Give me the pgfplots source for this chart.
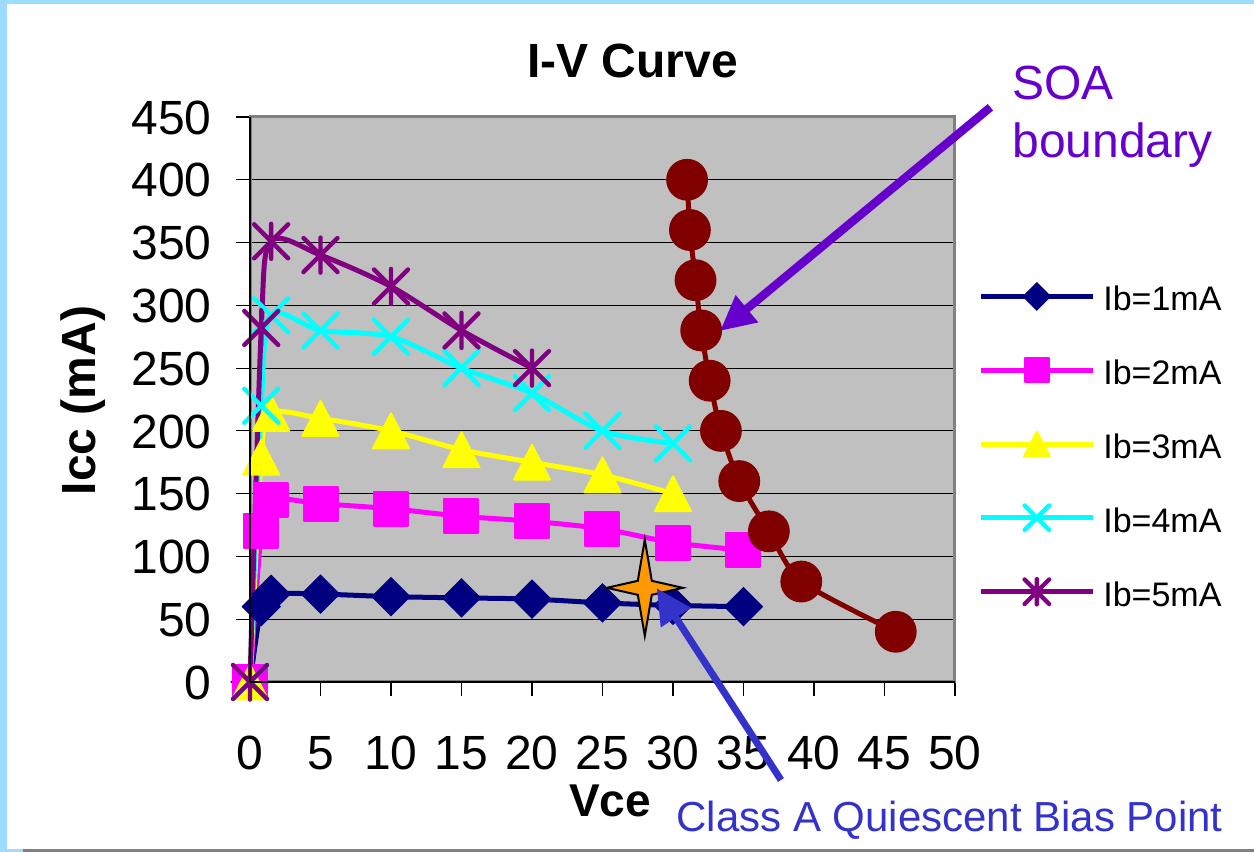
\documentclass[border=0pt]{standalone}
\usepackage{fontspec}
\setmainfont{Liberation Sans}
\setsansfont{Liberation Sans}
\usepackage{pgfplots}
\pgfplotsset{compat=1.18}
\usetikzlibrary{arrows.meta}

\definecolor{cNavy}{HTML}{000080}
\definecolor{cPink}{HTML}{FF00FF}
\definecolor{cYel}{HTML}{FFFF00}
\definecolor{cCyan}{HTML}{00FFFF}
\definecolor{cPurp}{HTML}{800080}
\definecolor{cDRed}{HTML}{800000}
\definecolor{cPlot}{HTML}{C0C0C0}
\definecolor{cBord}{HTML}{808080}
\definecolor{cFrame}{HTML}{9EDCFF}
\definecolor{cSOA}{HTML}{6600CC}
\definecolor{cBlue}{HTML}{3333CC}
\definecolor{cOrange}{HTML}{FF9900}

\pgfdeclareplotmark{xdiamond}{%
  \pgfpathmoveto{\pgfqpoint{0pt}{\pgfplotmarksize}}%
  \pgfpathlineto{\pgfqpoint{\pgfplotmarksize}{0pt}}%
  \pgfpathlineto{\pgfqpoint{0pt}{-\pgfplotmarksize}}%
  \pgfpathlineto{\pgfqpoint{-\pgfplotmarksize}{0pt}}%
  \pgfpathclose\pgfusepathqfillstroke}
\pgfdeclareplotmark{xtri}{%
  \pgfpathmoveto{\pgfqpoint{0pt}{0.97\pgfplotmarksize}}%
  \pgfpathlineto{\pgfqpoint{\pgfplotmarksize}{-0.97\pgfplotmarksize}}%
  \pgfpathlineto{\pgfqpoint{-\pgfplotmarksize}{-0.97\pgfplotmarksize}}%
  \pgfpathclose\pgfusepathqfillstroke}
\pgfdeclareplotmark{xcross}{%
  \pgfpathmoveto{\pgfqpoint{-\pgfplotmarksize}{-\pgfplotmarksize}}%
  \pgfpathlineto{\pgfqpoint{\pgfplotmarksize}{\pgfplotmarksize}}%
  \pgfpathmoveto{\pgfqpoint{-\pgfplotmarksize}{\pgfplotmarksize}}%
  \pgfpathlineto{\pgfqpoint{\pgfplotmarksize}{-\pgfplotmarksize}}%
  \pgfusepathqstroke}
\pgfdeclareplotmark{xstar}{%
  \pgfpathmoveto{\pgfqpoint{-\pgfplotmarksize}{-\pgfplotmarksize}}%
  \pgfpathlineto{\pgfqpoint{\pgfplotmarksize}{\pgfplotmarksize}}%
  \pgfpathmoveto{\pgfqpoint{-\pgfplotmarksize}{\pgfplotmarksize}}%
  \pgfpathlineto{\pgfqpoint{\pgfplotmarksize}{-\pgfplotmarksize}}%
  \pgfpathmoveto{\pgfqpoint{0pt}{-1.03\pgfplotmarksize}}%
  \pgfpathlineto{\pgfqpoint{0pt}{1.03\pgfplotmarksize}}%
  \pgfusepathqstroke}
\pgfdeclareplotmark{fourstar}{%
  \pgfpathmoveto{\pgfqpoint{0pt}{24pt}}%
  \pgfpathlineto{\pgfqpoint{3.5pt}{3.5pt}}%
  \pgfpathlineto{\pgfqpoint{19pt}{0pt}}%
  \pgfpathlineto{\pgfqpoint{3.5pt}{-3.5pt}}%
  \pgfpathlineto{\pgfqpoint{0pt}{-24pt}}%
  \pgfpathlineto{\pgfqpoint{-3.5pt}{-3.5pt}}%
  \pgfpathlineto{\pgfqpoint{-19pt}{0pt}}%
  \pgfpathlineto{\pgfqpoint{-3.5pt}{3.5pt}}%
  \pgfpathclose\pgfusepathqfillstroke}

\begin{document}
\begin{tikzpicture}[x=0.5pt,y=0.5pt]
\useasboundingbox (0,0) rectangle (1254,852);
\fill[cFrame] (0,0) rectangle (1254,852);
\fill[white] (7,3) rectangle (1254,848);
\fill[cBord] (23,0) rectangle (1254,3);

\begin{axis}[
  at={(125pt,85pt)}, anchor=south west,
  width=352.5pt, height=282.5pt, scale only axis,
  xmin=0, xmax=50, ymin=0, ymax=450,
  xtick={0,5,...,50}, ytick={0,50,...,450},
  clip=false,
  axis background/.style={fill=cPlot},
  axis line style={draw=cBord, line width=1.5pt},
  ymajorgrids, major grid style={black, line width=0.6pt},
  tick align=outside, tick pos=left,
  major tick length=7pt,
  major tick style={black, line width=0.6pt},
  /pgf/number format/assume math mode=true,
  ticklabel style={font=\fontsize{24}{28}\selectfont, inner sep=0pt, text height=17.2pt, text depth=0pt},
  xticklabel style={anchor=north},
  yticklabel style={anchor=east},
  xticklabel shift=19.5pt,
  yticklabel shift=12pt,
  legend style={draw=none, fill=none, at={(1.0326,0.4204)}, anchor=west,
     inner sep=0pt, row sep=23.5pt, column sep=4pt,
     nodes={inner sep=0pt, text height=12.2pt, text depth=0pt, font=\fontsize{17}{20}\selectfont}},
  legend cell align=left,
  legend image code/.code={%
    \draw[mark repeat=2, mark phase=2, every mark/.append style={scale=0.72}, #1]
      plot coordinates {(0pt,1.1pt) (28pt,1.1pt) (56pt,1.1pt)};},
]
\addplot[cNavy, line width=2.5pt, smooth, tension=0.5, mark=xdiamond, mark size=9.5pt,
  mark options={fill=cNavy, draw=cNavy, line width=0.5pt, solid}]
  coordinates {(0,0) (0.8,60) (1.5,70) (5,70) (10,68) (15,67) (20,66) (25,63) (30,61) (35,60)};
\addlegendentry{Ib=1mA}
\addplot[cPink, line width=2.5pt, smooth, tension=0.5, mark=square*, mark size=8.5pt,
  mark options={fill=cPink, draw=cPink, line width=1pt, line join=round, solid}]
  coordinates {(0,0) (0.8,120) (1.5,145) (5,142) (10,138) (15,132) (20,128) (25,122) (30,111) (35,105)};
\addlegendentry{Ib=2mA}
\addplot[cYel, line width=2.5pt, smooth, tension=0.5, mark=xtri, mark size=9pt,
  mark options={fill=cYel, draw=cYel, line width=1pt, line join=round, solid}]
  coordinates {(0,0) (0.8,179) (1.5,214) (5,210) (10,200) (15,185) (20,175) (25,165) (30,150)};
\addlegendentry{Ib=3mA}
\addplot[cCyan, line width=2.5pt, smooth, tension=0.5, mark=xcross, mark size=8.5pt,
  mark options={draw=cCyan, line width=2.2pt, line cap=round, solid}]
  coordinates {(0,0) (0.8,220) (1.5,292) (5,280) (10,275) (15,250) (20,230) (25,200) (30,190)};
\addlegendentry{Ib=4mA}
\addplot[cPurp, line width=2.5pt, smooth, tension=0.5, mark=xstar, mark size=8.5pt,
  mark options={draw=cPurp, line width=2.2pt, line cap=round, solid}]
  coordinates {(0,0) (0.8,282) (1.5,351) (5,340) (10,315) (15,280) (20,250)};
\addlegendentry{Ib=5mA}
\addplot[cDRed, line width=2.5pt, smooth, tension=0.4, mark=*, mark size=9.2pt,
  mark options={fill=cDRed, draw=cDRed, solid}, forget plot]
  coordinates {(31,400) (31.2,360) (31.6,320) (32,280) (32.6,240) (33.4,200) (34.7,160) (36.8,120) (39.1,80) (45.8,40)};
\addplot[only marks, mark=fourstar, mark options={fill=cOrange, draw=black, line width=1pt}, forget plot]
  coordinates {(28,75)};
\end{axis}

\draw[black, line width=0.6pt] (250,170) -- (250,735);
\draw[black, line width=0.6pt] (250,170) -- (955,170);

\draw[cSOA, line width=4.2pt, -{Triangle[length=17.5pt, width=16.5pt]}] (990.4,744.7) -- (720,521);
\draw[cBlue, line width=3.5pt, -{Triangle[length=17.5pt, width=17pt]}] (781,72) -- (656.8,263.7);

\node[anchor=base, inner sep=0pt, font=\fontsize{24}{28}\selectfont\bfseries] at (632.5,774) {I-V Curve};
\node[anchor=base, inner sep=0pt, rotate=90, font=\fontsize{24}{28}\selectfont\bfseries] at (95,451.5) {Icc (mA)};
\node[anchor=base, inner sep=0pt, font=\fontsize{23}{28}\selectfont\bfseries] at (610,35) {Vce};
\node[anchor=base west, inner sep=0pt, text=cBlue, font=\fontsize{21}{26}\selectfont] at (676,20) {Class A Quiescent Bias Point};
\node[anchor=base west, inner sep=0pt, text=cSOA, font=\fontsize{24}{28}\selectfont] at (1012,752) {SOA};
\node[anchor=base west, inner sep=0pt, text=cSOA, font=\fontsize{24}{28}\selectfont] at (1012,694) {boundary};
\end{tikzpicture}
\end{document}
